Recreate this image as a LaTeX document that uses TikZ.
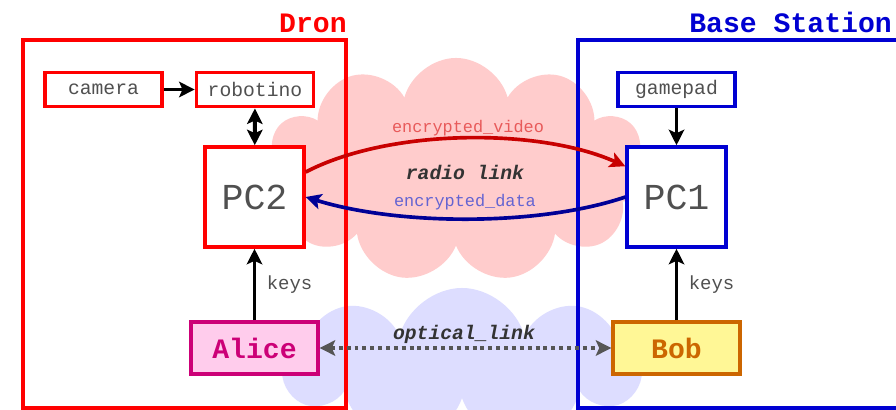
\documentclass[tikz,border=0pt]{standalone}
\usepackage{fontspec}
\newfontfamily\cour{Liberation Mono}
\usetikzlibrary{arrows.meta,shapes.symbols}
\definecolor{dronred}{RGB}{255,0,0}
\definecolor{baseblue}{RGB}{0,0,210}
\definecolor{txtgray}{RGB}{80,80,80}
\definecolor{darktxt}{RGB}{51,51,51}
\definecolor{cloudpink}{RGB}{255,204,204}
\definecolor{cloudblue}{RGB}{221,221,255}
\definecolor{vidred}{RGB}{200,0,0}
\definecolor{vidtxt}{RGB}{232,90,90}
\definecolor{datablue}{RGB}{0,0,150}
\definecolor{datatxt}{RGB}{100,100,210}
\definecolor{alicefill}{RGB}{255,204,236}
\definecolor{alicedraw}{RGB}{204,0,119}
\definecolor{bobfill}{RGB}{255,247,150}
\definecolor{bobdraw}{RGB}{204,102,0}
\definecolor{optgray}{RGB}{85,85,85}
\tikzset{
  smallbox/.style={draw, line width=2.5pt, fill=white, inner sep=0pt,
    minimum width=2.93cm, minimum height=0.86cm,
    font=\cour\fontsize{14}{16}\selectfont, text=txtgray},
  pcbox/.style={draw, line width=2.5pt, fill=white, inner sep=0pt,
    minimum width=2.47cm, minimum height=2.5cm,
    font=\cour\fontsize{26}{30}\selectfont, text=txtgray},
  partybox/.style={draw, line width=2.5pt, inner sep=0pt,
    minimum width=3.17cm, minimum height=1.3cm,
    font=\cour\bfseries\fontsize{20}{24}\selectfont},
  frame/.style={line width=2.3pt},
  titletxt/.style={font=\cour\bfseries\fontsize{20}{24}\selectfont, inner sep=0pt},
  blackarrow/.style={line width=2.8pt, -{Stealth[length=11pt,width=11pt,inset=2.4pt]}},
  keytxt/.style={font=\cour\fontsize{13.5}{16}\selectfont, text=txtgray},
  linktxt/.style={font=\cour\bfseries\itshape\fontsize{14}{16}\selectfont, text=darktxt},
  enctxt/.style={font=\cour\fontsize{12}{14}\selectfont},
  cloudshape/.style={cloud, cloud puffs=11, cloud ignores aspect, inner sep=0pt},
}
\begin{document}
\begin{tikzpicture}[x=0.025cm,y=-0.025cm]
\clip (0,0) rectangle (896,409);
\fill[white] (0,0) rectangle (896,409);
% clouds
\node[cloudshape, fill=cloudpink, minimum width=9.6cm, minimum height=5.6cm] (radiocloud) at (456,170) {};
\node[cloudshape, fill=cloudblue, minimum width=9.0cm, minimum height=3.9cm, cloud puffs=9] (opticcloud) at (462,366) {};
% frames
\draw[frame, dronred] (23,40) rectangle (346,408);
\draw[frame, baseblue] (578,40) rectangle (915,408);
\node[titletxt, text=dronred, anchor=base east] (drontitle) at (347,32) {Dron};
\node[titletxt, text=baseblue, anchor=base west] (basetitle) at (689,32) {Base Station};
% drone nodes
\node[smallbox, draw=dronred] (camera) at (103.5,89.5) {camera};
\node[smallbox, draw=dronred] (robotino) at (255,89.5) {robotino};
\node[pcbox, draw=dronred] (PC2) at (254.5,197) {PC2};
\node[partybox, draw=alicedraw, fill=alicefill, text=alicedraw] (alice) at (254.5,348) {Alice};
% base nodes
\node[smallbox, draw=baseblue] (gamepad) at (676.5,89.5) {gamepad};
\node[pcbox, draw=baseblue] (PC1) at (676.5,197) {PC1};
\node[partybox, draw=bobdraw, fill=bobfill, text=bobdraw] (bob) at (676.5,348) {Bob};
% black arrows
\draw[blackarrow] (camera) -- (robotino);
\draw[blackarrow, {Stealth[length=11pt,width=11pt,inset=2.4pt]}-{Stealth[length=11pt,width=11pt,inset=2.4pt]}] (robotino) -- (PC2);
\draw[blackarrow] (gamepad) -- (PC1);
\draw[blackarrow] (alice) -- (PC2) node[keytxt, midway, right=4pt] (keysA) {keys};
\draw[blackarrow] (bob) -- (PC1) node[keytxt, midway, right=4pt] (keysB) {keys};
% radio link
\draw[vidred, line width=2.6pt, -{Stealth[length=11pt,width=11pt,inset=2.4pt]}]
  (PC2.26) .. controls (390,128) and (540,128) .. (PC1.149);
\draw[datablue, line width=2.6pt, -{Stealth[length=11pt,width=11pt,inset=2.4pt]}]
  (PC1.west) .. controls (540,226) and (400,226) .. (PC2.east);
\node[enctxt, text=vidtxt] (encvid) at (468,128) {encrypted\_video};
\node[enctxt, text=datatxt] (encdata) at (465,202) {encrypted\_data};
\node[linktxt] (radiolbl) at (465,172) {radio link};
% optical link
\draw[optgray, line width=2.8pt, dash pattern=on 2.8pt off 2.8pt,
  {Stealth[length=11pt,width=11pt,inset=2.4pt]}-{Stealth[length=11pt,width=11pt,inset=2.4pt]}]
  (alice) -- (bob);
\node[linktxt] (opticlbl) at (464,334) {optical\_link};
\end{tikzpicture}
\end{document}
